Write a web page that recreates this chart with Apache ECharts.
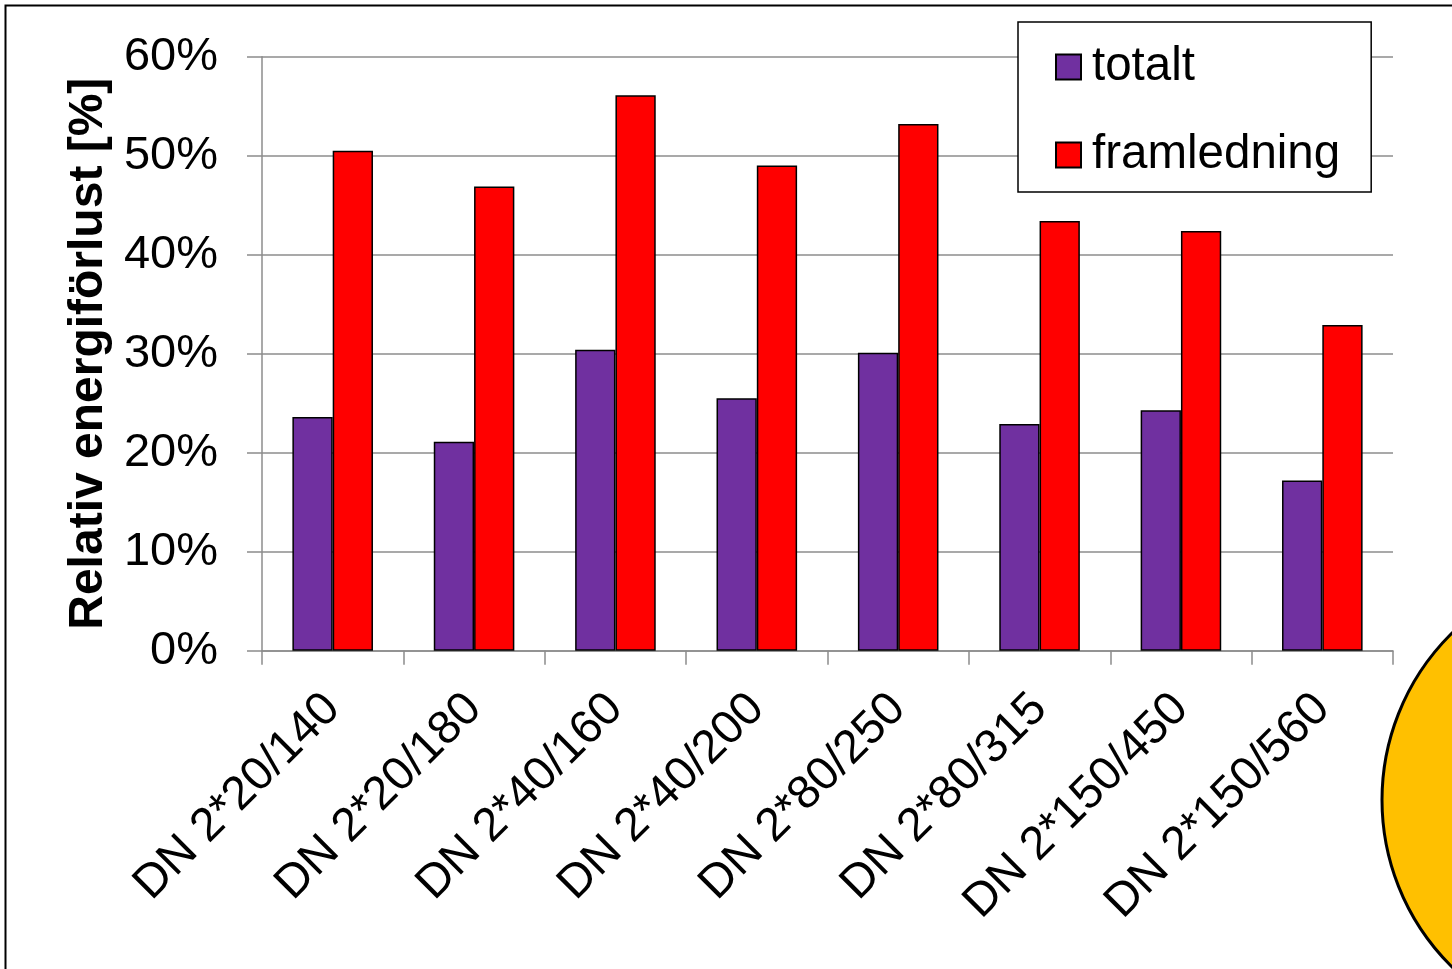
<!DOCTYPE html>
<html>
<head>
<meta charset="utf-8">
<script src="https://cdn.jsdelivr.net/npm/echarts@6/dist/echarts.min.js"></script>
<style>
  html, body { margin: 0; padding: 0; background: #fff; }
  #chart { width: 1452px; height: 969px; }
</style>
</head>
<body>
<div id="chart"></div>
<script>
// Pipe dimensions
const categories = ['DN 2*20/140', 'DN 2*20/180', 'DN 2*40/160', 'DN 2*40/200',
                    'DN 2*80/250', 'DN 2*80/315', 'DN 2*150/450', 'DN 2*150/560'];
// Relative energy loss, percent
const totalt = [23.6, 21.1, 30.4, 25.5, 30.1, 22.9, 24.3, 17.2];
const framledning = [50.5, 46.9, 56.1, 49.0, 53.2, 43.4, 42.4, 32.9];
const yTicks = [0, 10, 20, 30, 40, 50, 60];

const FONT = '"Liberation Sans", Arial, sans-serif';
const gridColor = '#8c8c8c';

const chart = echarts.init(document.getElementById('chart'), null, { renderer: 'canvas' });

chart.setOption({
  animation: false,
  backgroundColor: '#ffffff',
  textStyle: { fontFamily: FONT, color: '#000' },
  grid: { left: 262, right: 59, top: 56.7, bottom: 318.3, containLabel: false },
  legend: {
    orient: 'vertical',
    left: 1018, top: 22,
    padding: [21, 31, 13, 37],
    itemWidth: 25, itemHeight: 25, itemGap: 40,
    icon: 'rect',
    backgroundColor: '#fff',
    borderColor: '#000', borderWidth: 1.5,
    textStyle: { fontFamily: FONT, fontSize: 47.5, color: '#000', padding: [0, 0, 0, 6] },
    data: ['totalt', 'framledning']
  },
  xAxis: {
    type: 'category',
    data: categories,
    axisLine: { lineStyle: { color: gridColor, width: 1.5 } },
    axisTick: { show: true, length: 14, alignWithLabel: false, lineStyle: { color: gridColor, width: 1.5 } },
    axisLabel: {
      interval: 0, rotate: 45, margin: 51,
      fontFamily: FONT, fontSize: 47, color: '#000'
    }
  },
  yAxis: {
    type: 'value',
    min: yTicks[0], max: yTicks[yTicks.length - 1], interval: 10,
    name: 'Relativ energiförlust [%]',
    nameLocation: 'middle', nameGap: 144,
    nameTextStyle: { fontFamily: FONT, fontSize: 48, fontWeight: 'bold', color: '#000' },
    axisLine: { show: true, lineStyle: { color: gridColor, width: 1.5 } },
    axisTick: { show: true, inside: false, length: 15, lineStyle: { color: gridColor, width: 1.5 } },
    axisLabel: { margin: 44, fontFamily: FONT, fontSize: 47, color: '#000', formatter: v => v + '%' },
    splitLine: { show: true, lineStyle: { color: gridColor, width: 1.5 } }
  },
  series: [
    {
      name: 'totalt', type: 'bar', data: totalt,
      barGap: '0%', barCategoryGap: '43%',
      itemStyle: { color: '#7030A0', borderColor: '#000', borderWidth: 1.5 }
    },
    {
      name: 'framledning', type: 'bar', data: framledning,
      barGap: '0%', barCategoryGap: '43%',
      itemStyle: { color: '#FF0000', borderColor: '#000', borderWidth: 1.5 }
    }
  ],
  graphic: [
    {
      type: 'rect', z: 100, silent: true,
      shape: { x: 5.5, y: 5.5, width: 1500, height: 1000 },
      style: { fill: 'none', stroke: '#000', lineWidth: 2 }
    },
    {
      type: 'circle', z: 100, silent: true,
      shape: { cx: 1616, cy: 800, r: 234 },
      style: { fill: '#FFC000', stroke: '#000', lineWidth: 3 }
    }
  ]
});
</script>
</body>
</html>
